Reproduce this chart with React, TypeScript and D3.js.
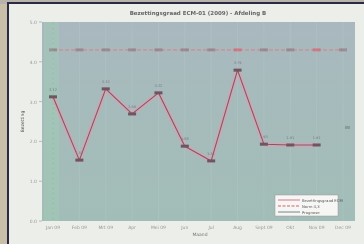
import * as d3 from 'd3';

const months = ['Jan 09', 'Feb 09', 'Mrt 09', 'Apr', 'Mei 09', 'Jun', 'Jul', 'Aug', 'Sept 09', 'Okt', 'Nov 09', 'Dec 09'];
const actual: (number | null)[] = [3.12, 1.53, 3.32, 2.69, 3.22, 1.88, 1.51, 3.79, 1.93, 1.91, 1.91, null];
const extra: (number | null)[] = [null, null, null, null, null, null, null, null, null, null, null, 2.35];
const target = [4.3, 4.3, 4.3, 4.3, 4.3, 4.3, 4.3, 4.3, 4.3, 4.3, 4.3, 4.3];
const yTicks = [0, 1, 2, 3, 4, 5];
const legendNames = ['Bezettingsgraad ECM', 'Norm 4,3', 'Prognose'];

export default function App() {
  const W = 364, H = 244;
  const m = { left: 42, right: 355, top: 22, bottom: 221 };

  const x = d3.scalePoint<string>().domain(months).range([53, 343]);
  const y = d3.scaleLinear().domain([0, 5]).range([m.bottom, m.top]);

  const pts = months.map((c, i) => ({ c, v: actual[i] }));
  const line = d3.line<{ c: string; v: number | null }>()
    .defined(d => d.v !== null)
    .x(d => x(d.c)!)
    .y(d => y(d.v as number));
  const targetLine = d3.line<number>()
    .x((_, i) => x(months[i])!)
    .y(d => y(d));

  return (
    <svg width={W} height={H} style={{ position: 'absolute', left: 0, top: 0, display: 'block' }}
      fontFamily="DejaVu Sans">
      <defs>
        <linearGradient id="bgside" x1="0" y1="0" x2="1" y2="0">
          <stop offset="0" stopColor="#c9bfa9" />
          <stop offset="1" stopColor="#e2ddd0" />
        </linearGradient>
        <linearGradient id="plotbg" x1="0" y1="0" x2="0" y2="1">
          <stop offset="0" stopColor="#a9b8bf" />
          <stop offset="0.35" stopColor="#a6bbbc" />
          <stop offset="1" stopColor="#a2bdb7" />
        </linearGradient>
        <filter id="soft" x="-5%" y="-5%" width="110%" height="110%">
          <feGaussianBlur stdDeviation="0.7" />
        </filter>
      </defs>
      <rect x={0} y={0} width={W} height={H} fill="url(#bgside)" />
      <rect x={0} y={0} width={W} height={4} fill="#b8b2a8" />
      <rect x={7} y={2} width={W - 7} height={H - 2} fill="#2a2a44" />
      <rect x={9} y={4} width={W - 9} height={H - 4} fill="#eceeea" />

      <g filter="url(#soft)">
        <text x={198} y={15} textAnchor="middle" fontSize={5.5} fontWeight="bold" fill="#666">
          Bezettingsgraad ECM-01 (2009) - Afdeling B
        </text>

        <rect x={m.left} y={m.top} width={m.right - m.left} height={m.bottom - m.top} fill="url(#plotbg)" />
        <rect x={44} y={m.top} width={15} height={m.bottom - m.top} fill="#9fd0b4" opacity={0.4} />
        <line x1={53} x2={53} y1={m.top} y2={m.bottom} stroke="#7cc49a" strokeWidth={1} strokeDasharray="3,2" />

        {months.map(c => (
          <line key={'g' + c} x1={x(c)} x2={x(c)} y1={m.top} y2={m.bottom} stroke="#b3c6c6" strokeWidth={0.5} />
        ))}

        {yTicks.map(t => (
          <g key={'y' + t}>
            <line x1={m.left - 3} x2={m.left} y1={y(t)} y2={y(t)} stroke="#999" strokeWidth={0.6} />
            <text x={m.left - 5} y={y(t) + 2} textAnchor="end" fontSize={4.5} fill="#999">{t.toFixed(1)}</text>
          </g>
        ))}
        <text transform={`translate(24,${(m.top + m.bottom) / 2}) rotate(-90)`} textAnchor="middle" fontSize={4.5} fill="#555">
          Bezetting
        </text>

        {months.map(c => (
          <text key={'x' + c} x={x(c)} y={m.bottom + 8} textAnchor="middle" fontSize={4.5} fill="#999">{c}</text>
        ))}
        <text x={200} y={m.bottom + 15} textAnchor="middle" fontSize={4.5} fill="#777">Maand</text>

        <path d={targetLine(target) ?? ''} fill="none" stroke="#cf8a92" strokeWidth={1.2} strokeDasharray="4,2" />
        {target.map((v, i) => (
          <rect key={'t' + i} x={x(months[i])! - 4} y={y(v) - 1.5} width={8} height={3}
            fill={i === 7 || i === 10 ? '#d8606a' : '#8f7880'} opacity={0.65} />
        ))}

        <path d={line(pts) ?? ''} fill="none" stroke="#d9a0b2" strokeWidth={5} opacity={0.55} strokeLinejoin="round" />
        <path d={line(pts) ?? ''} fill="none" stroke="#94505f" strokeWidth={1.1} strokeLinejoin="round" />
        {pts.filter(d => d.v !== null).map(d => (
          <g key={'p' + d.c}>
            <rect x={x(d.c)! - 4} y={y(d.v as number) - 1.5} width={8} height={3} fill="#6e5560" />
            <text x={x(d.c)!} y={y(d.v as number) - 6} textAnchor="middle" fontSize={3.5} fill="#778">
              {(d.v as number).toFixed(2)}
            </text>
          </g>
        ))}
        {extra.map((v, i) => v === null ? null : (
          <rect key={'e' + i} x={x(months[i])! + 2} y={y(v) - 1.5} width={5} height={3} fill="#8e9a9a" />
        ))}

        <g transform="translate(275,195)">
          <rect width={63} height={21} fill="#f6f6f4" stroke="#999" strokeWidth={0.5} />
          {legendNames.map((n, i) => (
            <g key={n} transform={`translate(3,${5 + i * 6})`}>
              <line x1={0} x2={22} y1={0} y2={0} stroke={['#d98ea0', '#d2606e', '#8c9898'][i]} strokeWidth={1.2}
                strokeDasharray={i === 1 ? '3,1.5' : undefined} />
              <text x={24} y={1.5} fontSize={3.8} fill="#555">{n}</text>
            </g>
          ))}
        </g>
      </g>
    </svg>
  );
}
